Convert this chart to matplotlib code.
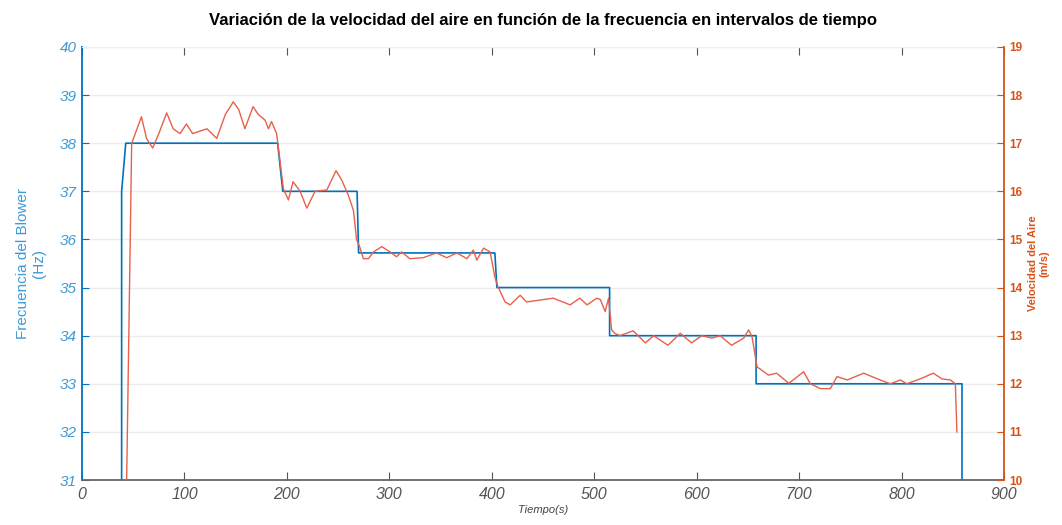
import matplotlib.pyplot as plt

# frecuencia del blower (Hz), puntos de esquina de la señal escalonada
t_freq = [38.7, 38.7, 42.7, 191, 196, 268.5, 270, 403, 405, 515, 515, 658, 658, 859, 859]
freq_hz = [31, 37, 38, 38, 37, 37, 35.72, 35.72, 35, 35, 34, 34, 33, 33, 31]

# velocidad del aire (m/s)
t_vel = [43.6, 48.5, 52, 58, 63, 69, 75, 82.7, 89, 95.7, 102, 108, 115, 122, 131.5,
         140, 147.7, 153, 159, 167, 172, 178.7, 182, 185, 190, 196.6, 201.5, 206,
         213, 219.4, 227.5, 239, 248, 253.6, 260, 265, 268, 271, 274.7, 279.6,
         284.5, 292.6, 300.8, 307, 312, 320, 333, 346, 356, 366, 375.7, 382,
         385.4, 392, 398.4, 403, 406, 413, 418, 427.7, 434, 447, 460, 476.5, 486,
         493, 502.6, 506, 510.7, 514, 517, 520, 525, 538, 550, 558, 572, 584, 595,
         605, 615, 623, 634, 646, 650.7, 654, 659, 663.7, 670, 678, 690, 704.4,
         711, 720.7, 730.5, 737, 747, 763, 779, 789, 799, 805, 818, 831, 839.6,
         847.7, 852.5, 854]
vel_ms = [10, 17.0, 17.2, 17.55, 17.1, 16.9, 17.2, 17.63, 17.3, 17.2, 17.4, 17.2,
          17.25, 17.3, 17.1, 17.6, 17.86, 17.7, 17.3, 17.76, 17.6, 17.48, 17.3,
          17.45, 17.2, 16.05, 15.82, 16.2, 16.0, 15.65, 16.0, 16.03, 16.43, 16.23,
          15.92, 15.6, 15.0, 14.85, 14.6, 14.6, 14.74, 14.85, 14.74, 14.64, 14.74,
          14.6, 14.62, 14.72, 14.62, 14.72, 14.6, 14.78, 14.57, 14.82, 14.74,
          14.22, 14.02, 13.7, 13.64, 13.84, 13.7, 13.74, 13.78, 13.64, 13.78,
          13.64, 13.78, 13.75, 13.5, 13.78, 13.12, 13.05, 13.0, 13.1, 12.85, 13.0,
          12.8, 13.05, 12.85, 13.0, 12.95, 13.0, 12.8, 12.95, 13.12, 12.98, 12.35,
          12.28, 12.18, 12.22, 12.01, 12.25, 12.0, 11.9, 11.9, 12.15, 12.08, 12.22,
          12.08, 12.0, 12.08, 12.0, 12.1, 12.22, 12.1, 12.08, 12.0, 11.0]

blue = '#0072BD'
blue_txt = '#3d9ad6'
orange = '#D95319'
red_line = '#e8604a'

plt.rcParams['font.family'] = ['Liberation Sans', 'DejaVu Sans']

fig = plt.figure(figsize=(10.62, 5.25), dpi=100)
ax = fig.add_axes([0.0772, 0.0857, 0.8682, 0.8248])
ax2 = ax.twinx()

ax.plot(t_freq, freq_hz, color=blue, lw=1.2, zorder=2)
ax2.plot(t_vel, vel_ms, color=red_line, lw=1.0, zorder=3)

ax.set_xlim(0, 900)
ax.set_ylim(31, 40)
ax2.set_ylim(10, 19)
ax.set_xticks(range(0, 901, 100))
ax.set_yticks(range(31, 41))
ax2.set_yticks(range(10, 20))

ax.grid(axis='y', color='#ececec', lw=1.0)
ax.set_axisbelow(True)

ax.tick_params(axis='x', direction='in', length=6, colors='#555555', labelsize=11.5,
               top=True, pad=5)
ax.tick_params(axis='y', direction='in', length=5, colors=blue, labelcolor=blue_txt,
               labelsize=11)
for lab in ax.get_xticklabels() + ax.get_yticklabels():
    lab.set_style('italic')
ax2.tick_params(axis='y', direction='in', length=5, colors=orange, labelsize=8.5)
for lab in ax2.get_yticklabels():
    lab.set_fontweight('bold')

ax.spines['left'].set_color(blue)
ax.spines['left'].set_linewidth(1.3)
ax.spines['bottom'].set_color('#666666')
ax.spines['bottom'].set_linewidth(1.3)
ax.spines['top'].set_color('#f0f0f0')
ax.spines['right'].set_visible(False)
ax2.spines['left'].set_visible(False)
ax2.spines['top'].set_visible(False)
ax2.spines['bottom'].set_visible(False)
ax2.spines['right'].set_color(orange)
ax2.spines['right'].set_linewidth(1.3)

ax.set_title('Variación de la velocidad del aire en función de la frecuencia en intervalos de tiempo',
             fontsize=12, fontweight='bold', pad=16)
ax.set_xlabel('Tiempo(s)', fontsize=8, style='italic', color='#444444', labelpad=2)
ax.set_ylabel('Frecuencia del Blower\n(Hz)', fontsize=11, color=blue_txt, labelpad=10)
ax2.set_ylabel('Velocidad del Aire\n(m/s)', fontsize=8, color=orange,
               fontweight='bold', labelpad=4)

fig.savefig('out.png', dpi=100)
